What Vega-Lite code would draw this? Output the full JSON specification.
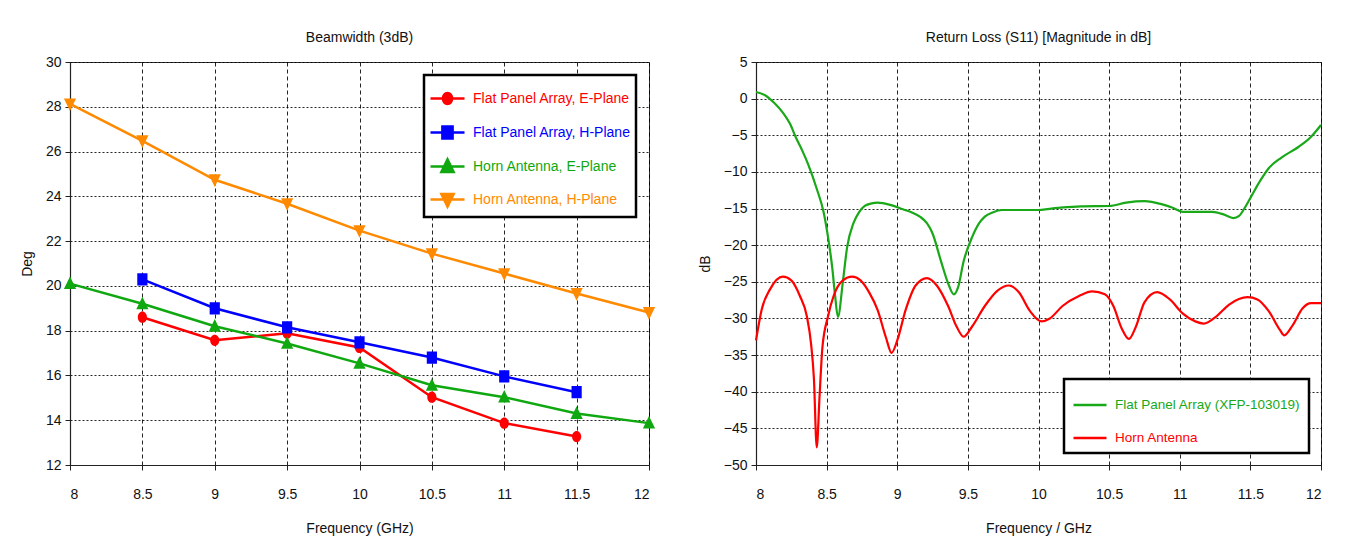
{
  "$schema": "https://vega.github.io/schema/vega-lite/v6.json",
  "background": "white",
  "padding": {"left": 19, "top": 30, "right": 10, "bottom": 5},
  "spacing": 30,
  "resolve": {"scale": {"color": "independent", "shape": "independent", "x": "independent", "y": "independent"}, "legend": {"color": "independent", "shape": "independent"}},
  "config": {
    "font": "Liberation Sans",
    "view": {"stroke": "#333", "strokeWidth": 1},
    "title": {"font": "Liberation Sans", "fontSize": 14, "fontWeight": "normal", "color": "#111", "offset": 10},
    "axis": {
      "labelFont": "Liberation Sans",
      "titleFont": "Liberation Sans",
      "labelFontSize": 14, "titleFontSize": 14, "titleFontWeight": "normal",
      "labelColor": "#111", "titleColor": "#111",
      "domainColor": "#222", "domainWidth": 1.2, "tickColor": "#222", "tickSize": 5,
      "gridColor": "#000", "gridOpacity": 0.85, "gridWidth": 1
    },
    "axisX": {"gridDash": [4, 3], "labelPadding": 17, "titlePadding": 20},
    "axisY": {"gridDash": [2, 2], "labelPadding": 4, "titlePadding": 11},
    "legend": {"labelFont": "Liberation Sans", "labelFontSize": 14, "labelLimit": 0}
  },
  "hconcat": [
    {
      "width": 579,
      "height": 403,
      "title": "Beamwidth (3dB)",
      "data": {"values": [
        {"f": 8.5, "deg": 18.6, "series": "Flat Panel Array, E-Plane"},
        {"f": 9.0, "deg": 17.57, "series": "Flat Panel Array, E-Plane"},
        {"f": 9.5, "deg": 17.88, "series": "Flat Panel Array, E-Plane"},
        {"f": 10.0, "deg": 17.25, "series": "Flat Panel Array, E-Plane"},
        {"f": 10.5, "deg": 15.03, "series": "Flat Panel Array, E-Plane"},
        {"f": 11.0, "deg": 13.87, "series": "Flat Panel Array, E-Plane"},
        {"f": 11.5, "deg": 13.27, "series": "Flat Panel Array, E-Plane"},
        {"f": 8.5, "deg": 20.29, "series": "Flat Panel Array, H-Plane"},
        {"f": 9.0, "deg": 19.0, "series": "Flat Panel Array, H-Plane"},
        {"f": 9.5, "deg": 18.15, "series": "Flat Panel Array, H-Plane"},
        {"f": 10.0, "deg": 17.48, "series": "Flat Panel Array, H-Plane"},
        {"f": 10.5, "deg": 16.8, "series": "Flat Panel Array, H-Plane"},
        {"f": 11.0, "deg": 15.96, "series": "Flat Panel Array, H-Plane"},
        {"f": 11.5, "deg": 15.25, "series": "Flat Panel Array, H-Plane"},
        {"f": 8.0, "deg": 20.1, "series": "Horn Antenna, E-Plane"},
        {"f": 8.5, "deg": 19.2, "series": "Horn Antenna, E-Plane"},
        {"f": 9.0, "deg": 18.2, "series": "Horn Antenna, E-Plane"},
        {"f": 9.5, "deg": 17.43, "series": "Horn Antenna, E-Plane"},
        {"f": 10.0, "deg": 16.54, "series": "Horn Antenna, E-Plane"},
        {"f": 10.5, "deg": 15.56, "series": "Horn Antenna, E-Plane"},
        {"f": 11.0, "deg": 15.03, "series": "Horn Antenna, E-Plane"},
        {"f": 11.5, "deg": 14.3, "series": "Horn Antenna, E-Plane"},
        {"f": 12.0, "deg": 13.87, "series": "Horn Antenna, E-Plane"},
        {"f": 8.0, "deg": 28.13, "series": "Horn Antenna, H-Plane"},
        {"f": 8.5, "deg": 26.48, "series": "Horn Antenna, H-Plane"},
        {"f": 9.0, "deg": 24.74, "series": "Horn Antenna, H-Plane"},
        {"f": 9.5, "deg": 23.67, "series": "Horn Antenna, H-Plane"},
        {"f": 10.0, "deg": 22.47, "series": "Horn Antenna, H-Plane"},
        {"f": 10.5, "deg": 21.44, "series": "Horn Antenna, H-Plane"},
        {"f": 11.0, "deg": 20.55, "series": "Horn Antenna, H-Plane"},
        {"f": 11.5, "deg": 19.66, "series": "Horn Antenna, H-Plane"},
        {"f": 12.0, "deg": 18.81, "series": "Horn Antenna, H-Plane"}
      ]},
      "encoding": {
        "x": {"field": "f", "type": "quantitative", "title": "Frequency (GHz)", "scale": {"domain": [8, 12], "nice": false}, "axis": {"values": [8, 8.5, 9, 9.5, 10, 10.5, 11, 11.5, 12], "format": "~g"}},
        "y": {"field": "deg", "type": "quantitative", "title": "Deg", "scale": {"domain": [12, 30], "nice": false, "zero": false}, "axis": {"values": [12, 14, 16, 18, 20, 22, 24, 26, 28, 30]}}
      },
      "layer": [
        {
          "mark": {"type": "line", "strokeWidth": 2.5},
          "encoding": {
            "color": {"field": "series", "type": "nominal",
              "scale": {"domain": ["Flat Panel Array, E-Plane", "Flat Panel Array, H-Plane", "Horn Antenna, E-Plane", "Horn Antenna, H-Plane"], "range": ["#ff0000", "#0000ff", "#10a810", "#ff8a00"]},
              "legend": {
                "title": null, "orient": "top-right", "offset": 13, "padding": 5, "rowPadding": 4, "labelOffset": 7,
                "fillColor": "white", "strokeColor": "black", "symbolSize": 1156,
                "encode": {
                  "legend": {"update": {"strokeWidth": {"value": 2.5}}},
                  "symbols": {"update": {
                    "strokeWidth": {"value": 2.5},
                    "opacity": {"value": 1},
                    "fillOpacity": {"value": 1},
                    "strokeOpacity": {"value": 1},
                    "stroke": [
                      {"test": "datum.label === 'Flat Panel Array, E-Plane'", "value": "#ff0000"},
                      {"test": "datum.label === 'Flat Panel Array, H-Plane'", "value": "#0000ff"},
                      {"test": "datum.label === 'Horn Antenna, E-Plane'", "value": "#10a810"},
                      {"value": "#ff8a00"}
                    ],
                    "fill": [
                      {"test": "datum.label === 'Flat Panel Array, E-Plane'", "value": "#ff0000"},
                      {"test": "datum.label === 'Flat Panel Array, H-Plane'", "value": "#0000ff"},
                      {"test": "datum.label === 'Horn Antenna, E-Plane'", "value": "#10a810"},
                      {"value": "#ff8a00"}
                    ]
                  }},
                  "labels": {"update": {
                    "fill": [
                      {"test": "datum.label === 'Flat Panel Array, E-Plane'", "value": "#ff0000"},
                      {"test": "datum.label === 'Flat Panel Array, H-Plane'", "value": "#0000ff"},
                      {"test": "datum.label === 'Horn Antenna, E-Plane'", "value": "#10a810"},
                      {"value": "#ff8a00"}
                    ]
                  }}
                }
              }
            }
          }
        },
        {
          "mark": {"type": "point", "filled": true, "opacity": 1, "size": 1156, "strokeWidth": 0},
          "encoding": {
            "color": {"field": "series", "type": "nominal",
              "scale": {"domain": ["Flat Panel Array, E-Plane", "Flat Panel Array, H-Plane", "Horn Antenna, E-Plane", "Horn Antenna, H-Plane"], "range": ["#ff0000", "#0000ff", "#10a810", "#ff8a00"]},
              "legend": {
                "title": null, "orient": "top-right", "offset": 13, "padding": 5, "rowPadding": 4, "labelOffset": 7,
                "fillColor": "white", "strokeColor": "black", "symbolSize": 1156,
                "encode": {
                  "legend": {"update": {"strokeWidth": {"value": 2.5}}},
                  "symbols": {"update": {
                    "strokeWidth": {"value": 2.5},
                    "opacity": {"value": 1},
                    "fillOpacity": {"value": 1},
                    "strokeOpacity": {"value": 1},
                    "stroke": [
                      {"test": "datum.label === 'Flat Panel Array, E-Plane'", "value": "#ff0000"},
                      {"test": "datum.label === 'Flat Panel Array, H-Plane'", "value": "#0000ff"},
                      {"test": "datum.label === 'Horn Antenna, E-Plane'", "value": "#10a810"},
                      {"value": "#ff8a00"}
                    ],
                    "fill": [
                      {"test": "datum.label === 'Flat Panel Array, E-Plane'", "value": "#ff0000"},
                      {"test": "datum.label === 'Flat Panel Array, H-Plane'", "value": "#0000ff"},
                      {"test": "datum.label === 'Horn Antenna, E-Plane'", "value": "#10a810"},
                      {"value": "#ff8a00"}
                    ]
                  }},
                  "labels": {"update": {
                    "fill": [
                      {"test": "datum.label === 'Flat Panel Array, E-Plane'", "value": "#ff0000"},
                      {"test": "datum.label === 'Flat Panel Array, H-Plane'", "value": "#0000ff"},
                      {"test": "datum.label === 'Horn Antenna, E-Plane'", "value": "#10a810"},
                      {"value": "#ff8a00"}
                    ]
                  }}
                }
              }
            },
            "shape": {"field": "series", "type": "nominal",
              "scale": {"domain": ["Flat Panel Array, E-Plane", "Flat Panel Array, H-Plane", "Horn Antenna, E-Plane", "Horn Antenna, H-Plane"],
                "range": [
                  "M-1,0L1,0M-0.27,0A0.27,0.33 0 1,0 0.27,0A0.27,0.33 0 1,0 -0.27,0Z",
                  "M-1,0L1,0M-0.3,-0.36L0.3,-0.36L0.3,0.36L-0.3,0.36Z",
                  "M-1,0L1,0M0,-0.42L0.36,0.32L-0.36,0.32Z",
                  "M-1,0L1,0M0,0.42L0.36,-0.32L-0.36,-0.32Z"
                ]},
              "legend": {
                "title": null, "orient": "top-right", "offset": 13, "padding": 5, "rowPadding": 4, "labelOffset": 7,
                "fillColor": "white", "strokeColor": "black", "symbolSize": 1156,
                "encode": {
                  "legend": {"update": {"strokeWidth": {"value": 2.5}}},
                  "symbols": {"update": {
                    "strokeWidth": {"value": 2.5},
                    "opacity": {"value": 1},
                    "fillOpacity": {"value": 1},
                    "strokeOpacity": {"value": 1},
                    "stroke": [
                      {"test": "datum.label === 'Flat Panel Array, E-Plane'", "value": "#ff0000"},
                      {"test": "datum.label === 'Flat Panel Array, H-Plane'", "value": "#0000ff"},
                      {"test": "datum.label === 'Horn Antenna, E-Plane'", "value": "#10a810"},
                      {"value": "#ff8a00"}
                    ],
                    "fill": [
                      {"test": "datum.label === 'Flat Panel Array, E-Plane'", "value": "#ff0000"},
                      {"test": "datum.label === 'Flat Panel Array, H-Plane'", "value": "#0000ff"},
                      {"test": "datum.label === 'Horn Antenna, E-Plane'", "value": "#10a810"},
                      {"value": "#ff8a00"}
                    ]
                  }},
                  "labels": {"update": {
                    "fill": [
                      {"test": "datum.label === 'Flat Panel Array, E-Plane'", "value": "#ff0000"},
                      {"test": "datum.label === 'Flat Panel Array, H-Plane'", "value": "#0000ff"},
                      {"test": "datum.label === 'Horn Antenna, E-Plane'", "value": "#10a810"},
                      {"value": "#ff8a00"}
                    ]
                  }}
                }
              }
            }
          }
        }
      ]
    },
    {
      "width": 565,
      "height": 403,
      "title": "Return Loss (S11) [Magnitude in dB]",
      "data": {"values": [
        {"f": 8.0, "db": 0.9, "series": "Flat Panel Array (XFP-103019)"},
        {"f": 8.07, "db": 0.4, "series": "Flat Panel Array (XFP-103019)"},
        {"f": 8.13, "db": -0.6, "series": "Flat Panel Array (XFP-103019)"},
        {"f": 8.19, "db": -1.9, "series": "Flat Panel Array (XFP-103019)"},
        {"f": 8.24, "db": -3.4, "series": "Flat Panel Array (XFP-103019)"},
        {"f": 8.28, "db": -5.2, "series": "Flat Panel Array (XFP-103019)"},
        {"f": 8.33, "db": -7.2, "series": "Flat Panel Array (XFP-103019)"},
        {"f": 8.37, "db": -9.0, "series": "Flat Panel Array (XFP-103019)"},
        {"f": 8.43, "db": -12.3, "series": "Flat Panel Array (XFP-103019)"},
        {"f": 8.48, "db": -15.6, "series": "Flat Panel Array (XFP-103019)"},
        {"f": 8.51, "db": -18.9, "series": "Flat Panel Array (XFP-103019)"},
        {"f": 8.54, "db": -23.1, "series": "Flat Panel Array (XFP-103019)"},
        {"f": 8.56, "db": -26.9, "series": "Flat Panel Array (XFP-103019)"},
        {"f": 8.58, "db": -29.8, "series": "Flat Panel Array (XFP-103019)"},
        {"f": 8.615, "db": -25.0, "series": "Flat Panel Array (XFP-103019)"},
        {"f": 8.645, "db": -20.3, "series": "Flat Panel Array (XFP-103019)"},
        {"f": 8.69, "db": -17.0, "series": "Flat Panel Array (XFP-103019)"},
        {"f": 8.73, "db": -15.5, "series": "Flat Panel Array (XFP-103019)"},
        {"f": 8.77, "db": -14.65, "series": "Flat Panel Array (XFP-103019)"},
        {"f": 8.82, "db": -14.3, "series": "Flat Panel Array (XFP-103019)"},
        {"f": 8.86, "db": -14.2, "series": "Flat Panel Array (XFP-103019)"},
        {"f": 8.95, "db": -14.5, "series": "Flat Panel Array (XFP-103019)"},
        {"f": 9.04, "db": -15.1, "series": "Flat Panel Array (XFP-103019)"},
        {"f": 9.1, "db": -15.5, "series": "Flat Panel Array (XFP-103019)"},
        {"f": 9.16, "db": -16.1, "series": "Flat Panel Array (XFP-103019)"},
        {"f": 9.21, "db": -17.0, "series": "Flat Panel Array (XFP-103019)"},
        {"f": 9.25, "db": -18.4, "series": "Flat Panel Array (XFP-103019)"},
        {"f": 9.31, "db": -22.2, "series": "Flat Panel Array (XFP-103019)"},
        {"f": 9.36, "db": -25.2, "series": "Flat Panel Array (XFP-103019)"},
        {"f": 9.4, "db": -26.7, "series": "Flat Panel Array (XFP-103019)"},
        {"f": 9.43, "db": -25.8, "series": "Flat Panel Array (XFP-103019)"},
        {"f": 9.47, "db": -22.2, "series": "Flat Panel Array (XFP-103019)"},
        {"f": 9.53, "db": -18.9, "series": "Flat Panel Array (XFP-103019)"},
        {"f": 9.58, "db": -17.0, "series": "Flat Panel Array (XFP-103019)"},
        {"f": 9.62, "db": -16.1, "series": "Flat Panel Array (XFP-103019)"},
        {"f": 9.68, "db": -15.5, "series": "Flat Panel Array (XFP-103019)"},
        {"f": 9.74, "db": -15.2, "series": "Flat Panel Array (XFP-103019)"},
        {"f": 9.98, "db": -15.2, "series": "Flat Panel Array (XFP-103019)"},
        {"f": 10.14, "db": -14.9, "series": "Flat Panel Array (XFP-103019)"},
        {"f": 10.3, "db": -14.7, "series": "Flat Panel Array (XFP-103019)"},
        {"f": 10.5, "db": -14.65, "series": "Flat Panel Array (XFP-103019)"},
        {"f": 10.62, "db": -14.2, "series": "Flat Panel Array (XFP-103019)"},
        {"f": 10.75, "db": -14.0, "series": "Flat Panel Array (XFP-103019)"},
        {"f": 10.87, "db": -14.4, "series": "Flat Panel Array (XFP-103019)"},
        {"f": 10.95, "db": -14.9, "series": "Flat Panel Array (XFP-103019)"},
        {"f": 11.02, "db": -15.45, "series": "Flat Panel Array (XFP-103019)"},
        {"f": 11.23, "db": -15.45, "series": "Flat Panel Array (XFP-103019)"},
        {"f": 11.31, "db": -15.8, "series": "Flat Panel Array (XFP-103019)"},
        {"f": 11.38, "db": -16.3, "series": "Flat Panel Array (XFP-103019)"},
        {"f": 11.42, "db": -16.0, "series": "Flat Panel Array (XFP-103019)"},
        {"f": 11.46, "db": -14.9, "series": "Flat Panel Array (XFP-103019)"},
        {"f": 11.51, "db": -13.2, "series": "Flat Panel Array (XFP-103019)"},
        {"f": 11.57, "db": -11.2, "series": "Flat Panel Array (XFP-103019)"},
        {"f": 11.63, "db": -9.5, "series": "Flat Panel Array (XFP-103019)"},
        {"f": 11.72, "db": -8.05, "series": "Flat Panel Array (XFP-103019)"},
        {"f": 11.84, "db": -6.6, "series": "Flat Panel Array (XFP-103019)"},
        {"f": 11.93, "db": -5.2, "series": "Flat Panel Array (XFP-103019)"},
        {"f": 12.0, "db": -3.6, "series": "Flat Panel Array (XFP-103019)"},
        {"f": 8.0, "db": -33.0, "series": "Horn Antenna"},
        {"f": 8.04, "db": -28.8, "series": "Horn Antenna"},
        {"f": 8.1, "db": -26.0, "series": "Horn Antenna"},
        {"f": 8.19, "db": -24.3, "series": "Horn Antenna"},
        {"f": 8.25, "db": -24.8, "series": "Horn Antenna"},
        {"f": 8.31, "db": -26.9, "series": "Horn Antenna"},
        {"f": 8.36, "db": -29.7, "series": "Horn Antenna"},
        {"f": 8.39, "db": -33.5, "series": "Horn Antenna"},
        {"f": 8.41, "db": -38.2, "series": "Horn Antenna"},
        {"f": 8.43, "db": -47.6, "series": "Horn Antenna"},
        {"f": 8.45, "db": -40.6, "series": "Horn Antenna"},
        {"f": 8.47, "db": -34.0, "series": "Horn Antenna"},
        {"f": 8.51, "db": -29.7, "series": "Horn Antenna"},
        {"f": 8.55, "db": -26.9, "series": "Horn Antenna"},
        {"f": 8.615, "db": -24.8, "series": "Horn Antenna"},
        {"f": 8.68, "db": -24.3, "series": "Horn Antenna"},
        {"f": 8.74, "db": -24.8, "series": "Horn Antenna"},
        {"f": 8.8, "db": -26.4, "series": "Horn Antenna"},
        {"f": 8.86, "db": -28.8, "series": "Horn Antenna"},
        {"f": 8.92, "db": -32.6, "series": "Horn Antenna"},
        {"f": 8.96, "db": -34.7, "series": "Horn Antenna"},
        {"f": 9.0, "db": -33.0, "series": "Horn Antenna"},
        {"f": 9.06, "db": -28.8, "series": "Horn Antenna"},
        {"f": 9.13, "db": -25.5, "series": "Horn Antenna"},
        {"f": 9.21, "db": -24.5, "series": "Horn Antenna"},
        {"f": 9.28, "db": -25.5, "series": "Horn Antenna"},
        {"f": 9.36, "db": -28.3, "series": "Horn Antenna"},
        {"f": 9.42, "db": -31.1, "series": "Horn Antenna"},
        {"f": 9.47, "db": -32.5, "series": "Horn Antenna"},
        {"f": 9.53, "db": -31.1, "series": "Horn Antenna"},
        {"f": 9.62, "db": -28.3, "series": "Horn Antenna"},
        {"f": 9.71, "db": -26.2, "series": "Horn Antenna"},
        {"f": 9.79, "db": -25.5, "series": "Horn Antenna"},
        {"f": 9.86, "db": -26.4, "series": "Horn Antenna"},
        {"f": 9.94, "db": -29.0, "series": "Horn Antenna"},
        {"f": 10.02, "db": -30.4, "series": "Horn Antenna"},
        {"f": 10.08, "db": -30.0, "series": "Horn Antenna"},
        {"f": 10.17, "db": -28.3, "series": "Horn Antenna"},
        {"f": 10.29, "db": -26.9, "series": "Horn Antenna"},
        {"f": 10.38, "db": -26.3, "series": "Horn Antenna"},
        {"f": 10.47, "db": -26.7, "series": "Horn Antenna"},
        {"f": 10.53, "db": -28.3, "series": "Horn Antenna"},
        {"f": 10.59, "db": -31.4, "series": "Horn Antenna"},
        {"f": 10.64, "db": -32.8, "series": "Horn Antenna"},
        {"f": 10.69, "db": -31.1, "series": "Horn Antenna"},
        {"f": 10.75, "db": -27.8, "series": "Horn Antenna"},
        {"f": 10.84, "db": -26.4, "series": "Horn Antenna"},
        {"f": 10.93, "db": -27.4, "series": "Horn Antenna"},
        {"f": 11.02, "db": -29.3, "series": "Horn Antenna"},
        {"f": 11.11, "db": -30.4, "series": "Horn Antenna"},
        {"f": 11.17, "db": -30.7, "series": "Horn Antenna"},
        {"f": 11.26, "db": -29.7, "series": "Horn Antenna"},
        {"f": 11.35, "db": -28.1, "series": "Horn Antenna"},
        {"f": 11.48, "db": -27.1, "series": "Horn Antenna"},
        {"f": 11.55, "db": -27.4, "series": "Horn Antenna"},
        {"f": 11.63, "db": -29.0, "series": "Horn Antenna"},
        {"f": 11.71, "db": -31.6, "series": "Horn Antenna"},
        {"f": 11.74, "db": -32.3, "series": "Horn Antenna"},
        {"f": 11.8, "db": -30.9, "series": "Horn Antenna"},
        {"f": 11.87, "db": -28.6, "series": "Horn Antenna"},
        {"f": 11.93, "db": -27.9, "series": "Horn Antenna"},
        {"f": 12.0, "db": -27.9, "series": "Horn Antenna"}
      ]},
      "mark": {"type": "line", "strokeWidth": 2.2, "interpolate": "monotone"},
      "encoding": {
        "x": {"field": "f", "type": "quantitative", "title": "Frequency / GHz", "scale": {"domain": [8, 12], "nice": false}, "axis": {"values": [8, 8.5, 9, 9.5, 10, 10.5, 11, 11.5, 12], "format": "~g"}},
        "y": {"field": "db", "type": "quantitative", "title": "dB", "scale": {"domain": [-50, 5], "nice": false, "zero": false}, "axis": {"values": [-50, -45, -40, -35, -30, -25, -20, -15, -10, -5, 0, 5]}},
        "color": {"field": "series", "type": "nominal",
          "scale": {"domain": ["Flat Panel Array (XFP-103019)", "Horn Antenna"], "range": ["#18a818", "#ff0000"]},
          "legend": {
            "title": null, "orient": "bottom-right", "offset": 12, "padding": 8, "rowPadding": 8, "labelOffset": 7, "labelLimit": 0, "labelFontSize": 13.5,
            "fillColor": "white", "strokeColor": "black", "symbolType": "stroke", "symbolSize": 1089, "symbolStrokeWidth": 2.5,
            "encode": {
              "legend": {"update": {"strokeWidth": {"value": 2.5}}},
              "labels": {"update": {"fill": [
                {"test": "datum.label === 'Horn Antenna'", "value": "#ff0000"},
                {"value": "#18a818"}
              ]}}
            }
          }
        }
      }
    }
  ]
}
